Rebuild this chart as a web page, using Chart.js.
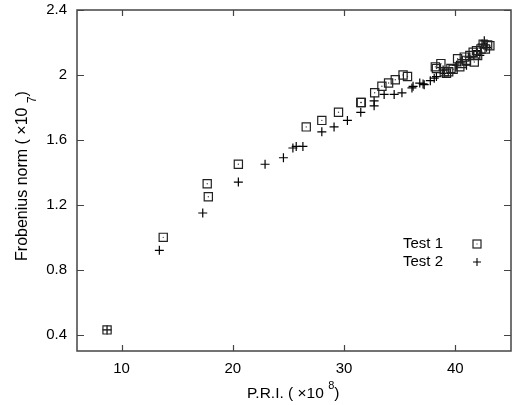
<!DOCTYPE html>
<html>
<head>
<meta charset="utf-8">
<script src="https://cdn.jsdelivr.net/npm/chart.js@4"></script>
<style>
  html, body { margin: 0; padding: 0; background: #fff; }
  #wrap { width: 512px; height: 405px; }
</style>
</head>
<body>
<div id="wrap"><canvas id="chart" width="512" height="405"></canvas></div>
<script>
const xTicks = [10, 20, 30, 40];
const yTicks = [0.4, 0.8, 1.2, 1.6, 2.0, 2.4];

// Test 1 (squares)
const test1X = [8.7, 13.75, 17.7, 17.8, 20.5, 26.6, 28.0, 29.5, 31.5, 31.55, 32.75, 33.4, 34.0, 34.6, 35.3, 35.7,
  38.2, 38.3, 38.7, 39.0, 39.2, 39.4, 39.6, 39.8, 40.2, 40.4, 40.6, 40.8, 41.0, 41.3, 41.6, 41.7, 41.9, 42.0, 42.3, 42.5, 42.7, 42.9, 43.1];
const test1Y = [0.43, 1.00, 1.33, 1.25, 1.45, 1.68, 1.72, 1.77, 1.83, 1.83, 1.89, 1.93, 1.95, 1.97, 2.00, 1.99,
  2.05, 2.04, 2.07, 2.02, 2.01, 2.02, 2.04, 2.035, 2.10, 2.05, 2.07, 2.11, 2.09, 2.12, 2.14, 2.08, 2.15, 2.12, 2.16, 2.19, 2.16, 2.185, 2.18];

// Test 2 (pluses)
const test2X = [8.7, 13.4, 17.3, 20.5, 22.9, 24.55, 25.4, 25.7, 26.3, 28.0, 29.1, 30.3, 31.5, 32.7, 32.7, 33.6, 34.5, 35.2,
  36.1, 36.2, 36.8, 37.1, 37.2, 37.75, 38.1, 38.3, 38.9, 39.0, 40.1, 40.5, 41.0, 41.3, 41.9, 42.2, 42.6, 42.8, 42.4];
const test2Y = [0.43, 0.92, 1.15, 1.34, 1.45, 1.49, 1.55, 1.56, 1.56, 1.65, 1.68, 1.72, 1.77, 1.81, 1.84, 1.88, 1.88, 1.89,
  1.92, 1.93, 1.95, 1.945, 1.94, 1.965, 1.98, 1.99, 2.03, 2.01, 2.06, 2.08, 2.06, 2.11, 2.15, 2.12, 2.21, 2.17, 2.19];

const FONT = "Liberation Sans, Arial, Helvetica, sans-serif";

const test1Points = test1X.map((v, i) => ({ x: v, y: test1Y[i] }));
const test2Points = test2X.map((v, i) => ({ x: v, y: test2Y[i] }));

const framePlugin = {
  id: "frame",
  beforeDatasetsDraw(chart) {
    const { ctx, chartArea: a, scales } = chart;
    ctx.save();
    ctx.strokeStyle = "#444";
    ctx.lineWidth = 1.5;
    ctx.strokeRect(a.left, a.top, a.right - a.left, a.bottom - a.top);
    ctx.lineWidth = 1.2;
    ctx.beginPath();
    xTicks.forEach(v => {
      const x = Math.round(scales.x.getPixelForValue(v)) + 0.5;
      ctx.moveTo(x, a.bottom); ctx.lineTo(x, a.bottom - 6);
      ctx.moveTo(x, a.top); ctx.lineTo(x, a.top + 6);
    });
    yTicks.forEach(v => {
      const y = Math.round(scales.y.getPixelForValue(v)) + 0.5;
      ctx.moveTo(a.left, y); ctx.lineTo(a.left + 7, y);
      ctx.moveTo(a.right, y); ctx.lineTo(a.right - 7, y);
    });
    ctx.stroke();
    ctx.restore();
  },
  afterDraw(chart) {
    const ctx = chart.ctx;
    ctx.save();
    ctx.fillStyle = "#000";
    ctx.textBaseline = "middle";

    // x title with raised exponent
    ctx.font = "15.5px " + FONT;
    let x = 247;
    const xt = "P.R.I. ( \u00d710 ";
    ctx.fillText(xt, x, 394);
    x += ctx.measureText(xt).width;
    ctx.font = "11px " + FONT;
    ctx.fillText("8", x, 386);
    x += ctx.measureText("8").width;
    ctx.font = "15.5px " + FONT;
    ctx.fillText(")", x, 394);

    // y title, rotated
    ctx.save();
    ctx.translate(23, 176);
    ctx.rotate(-Math.PI / 2);
    const yt = "Frobenius norm ( \u00d710 ";
    ctx.font = "16px " + FONT;
    const w1 = ctx.measureText(yt).width;
    ctx.font = "12px " + FONT;
    const w2 = ctx.measureText("7").width;
    ctx.font = "16px " + FONT;
    const w3 = ctx.measureText(")").width;
    let p = -(w1 + w2 + w3) / 2;
    ctx.fillText(yt, p, 0);
    p += w1;
    ctx.font = "12px " + FONT;
    ctx.fillText("7", p, 10);
    p += w2;
    ctx.font = "16px " + FONT;
    ctx.fillText(")", p, 0);
    ctx.restore();

    // legend
    ctx.font = "15px " + FONT;
    ctx.fillText("Test 1", 403, 244);
    ctx.fillText("Test 2", 403, 262);
    ctx.strokeStyle = "#222";
    ctx.lineWidth = 1.2;
    ctx.strokeRect(473, 240, 8, 8);
    ctx.fillStyle = "#333";
    ctx.fillRect(476.5, 243.5, 1, 1);
    ctx.strokeStyle = "#000";
    ctx.lineWidth = 1.1;
    ctx.beginPath();
    ctx.moveTo(473, 262); ctx.lineTo(481, 262);
    ctx.moveTo(477, 258); ctx.lineTo(477, 266);
    ctx.stroke();
    ctx.restore();
  }
};

new Chart(document.getElementById("chart"), {
  type: "scatter",
  data: {
    datasets: [
      {
        label: "Test 1",
        data: test1Points,
        pointStyle: "rect",
        pointRadius: 5.8,
        borderColor: "#222",
        backgroundColor: "rgba(0,0,0,0)",
        borderWidth: 1.2,
      },
      {
        label: "Test 1 dot",
        data: test1Points,
        pointStyle: "circle",
        pointRadius: 0.7,
        borderWidth: 0,
        backgroundColor: "#444",
      },
      {
        label: "Test 2",
        data: test2Points,
        pointStyle: "cross",
        pointRadius: 4.5,
        borderColor: "#000",
        borderWidth: 1.2,
      },
    ],
  },
  options: {
    responsive: false,
    animation: false,
    events: [],
    layout: { autoPadding: false, padding: { top: 10, right: 1, left: 0, bottom: 0 } },
    plugins: { legend: { display: false }, tooltip: { enabled: false } },
    scales: {
      x: {
        type: "linear",
        min: 6,
        max: 45,
        afterBuildTicks: s => { s.ticks = xTicks.map(v => ({ value: v })); },
        afterFit: s => { s.height = 54; s.paddingLeft = 0; s.paddingRight = 0; },
        grid: { display: false, drawTicks: false },
        border: { display: false },
        ticks: { color: "#000", font: { size: 15, family: FONT }, padding: 9, maxRotation: 0 },
      },
      y: {
        type: "linear",
        min: 0.3,
        max: 2.4,
        afterBuildTicks: s => { s.ticks = yTicks.map(v => ({ value: v })); },
        afterFit: s => { s.width = 77; s.paddingTop = 0; s.paddingBottom = 0; },
        grid: { display: false, drawTicks: false },
        border: { display: false },
        ticks: { color: "#000", font: { size: 15, family: FONT }, padding: 10, callback: v => String(v) },
      },
    },
  },
  plugins: [framePlugin],
});
</script>
</body>
</html>
